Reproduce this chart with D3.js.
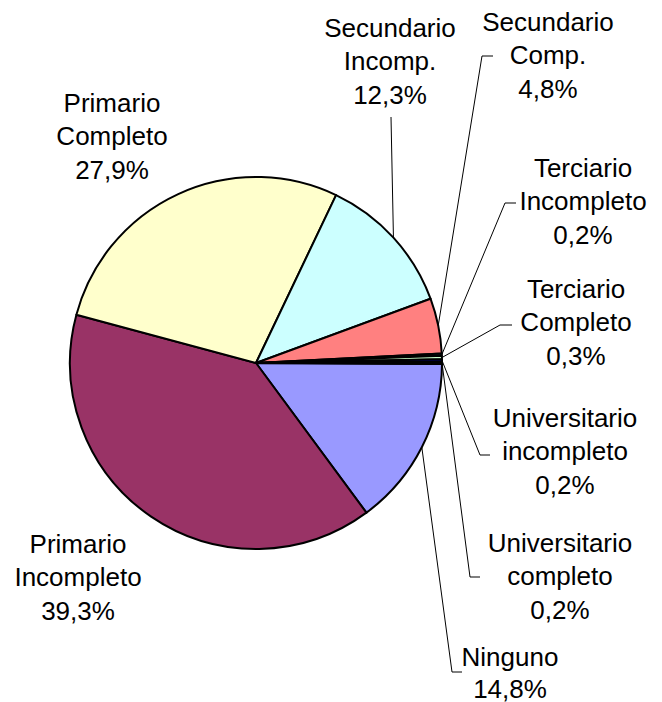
<!DOCTYPE html>
<html>
<head>
<meta charset="utf-8">
<script src="https://cdn.jsdelivr.net/npm/d3@7"></script>
<style>
  body { margin: 0; background: #fff; }
  text { font-family: "Liberation Sans", Arial, sans-serif; }
</style>
</head>
<body>
<div id="chart"></div>
<script>
// chart data, starting at 3 o'clock and going clockwise
const categories = [
  ["Ninguno"],
  ["Primario", "Incompleto"],
  ["Primario", "Completo"],
  ["Secundario", "Incomp."],
  ["Secundario", "Comp."],
  ["Terciario", "Incompleto"],
  ["Terciario", "Completo"],
  ["Universitario", "incompleto"],
  ["Universitario", "completo"]
];
const values = [14.8, 39.3, 27.9, 12.3, 4.8, 0.2, 0.3, 0.2, 0.2];
const colors = ["#9999FF", "#993366", "#FFFFCC", "#CCFFFF", "#FF8080", "#0A2A3A", "#CCFFCC", "#000080", "#000000"];

// label layout: text centre x, first baseline y, line step, leader elbow (null = no leader)
const labelPos = [
  { x: 510, y: 666, step: 31.5, elbow: [452, 672], end: 462 },
  { x: 78,  y: 553, step: 33.3, elbow: null },
  { x: 112, y: 112, step: 33.3, elbow: null },
  { x: 390, y: 37,  step: 33.3, elbow: [391, 117], end: null },
  { x: 548, y: 31,  step: 33.3, elbow: [482, 56],  end: 493 },
  { x: 583, y: 177, step: 33.3, elbow: [505, 203], end: 516 },
  { x: 576, y: 298, step: 33.3, elbow: [500, 325], end: 512 },
  { x: 565, y: 427, step: 33.3, elbow: [480, 455], end: 490 },
  { x: 560, y: 552, step: 33.3, elbow: [470, 577], end: 480 }
];

const width = 662, height = 702;
const cx = 256, cy = 363, radius = 186;
const startDeg = 90.3;

const svg = d3.select("#chart")
  .append("svg")
  .attr("width", width)
  .attr("height", height);

const g = svg.append("g")
  .attr("transform", `translate(${cx}, ${cy})`);

const pie = d3.pie()
  .sort(null)
  .value(d => d)
  .startAngle(startDeg * Math.PI / 180)
  .endAngle(startDeg * Math.PI / 180 + 2 * Math.PI);

const arcs = pie(values);

const arc = d3.arc().innerRadius(0).outerRadius(radius);

g.selectAll("path.slice")
  .data(arcs)
  .enter()
  .append("path")
  .attr("class", "slice")
  .attr("d", arc)
  .attr("fill", (d, i) => colors[i])
  .attr("stroke", "#000")
  .attr("stroke-width", 2)
  .attr("stroke-linejoin", "round");

// leader lines from the middle of each slice's rim
arcs.forEach(function (d, i) {
  const p = labelPos[i];
  if (!p.elbow) return;
  const mid = (d.startAngle + d.endAngle) / 2;
  const sx = cx + radius * Math.sin(mid);
  const sy = cy - radius * Math.cos(mid);
  const pts = [[sx, sy], p.elbow];
  if (p.end !== null) pts.push([p.end, p.elbow[1]]);
  svg.append("path")
    .attr("d", d3.line()(pts))
    .attr("fill", "none")
    .attr("stroke", "#000")
    .attr("stroke-width", 1);
});

// labels
const fmt = v => d3.format(".1f")(v).replace(".", ",") + "%";

categories.forEach(function (lines, i) {
  const p = labelPos[i];
  const t = svg.append("text")
    .attr("text-anchor", "middle")
    .style("font-size", "26px")
    .attr("fill", "#000");
  lines.concat([fmt(values[i])]).forEach(function (s, k) {
    t.append("tspan")
      .attr("x", p.x)
      .attr("y", p.y + k * p.step)
      .text(s);
  });
});
</script>
</body>
</html>
